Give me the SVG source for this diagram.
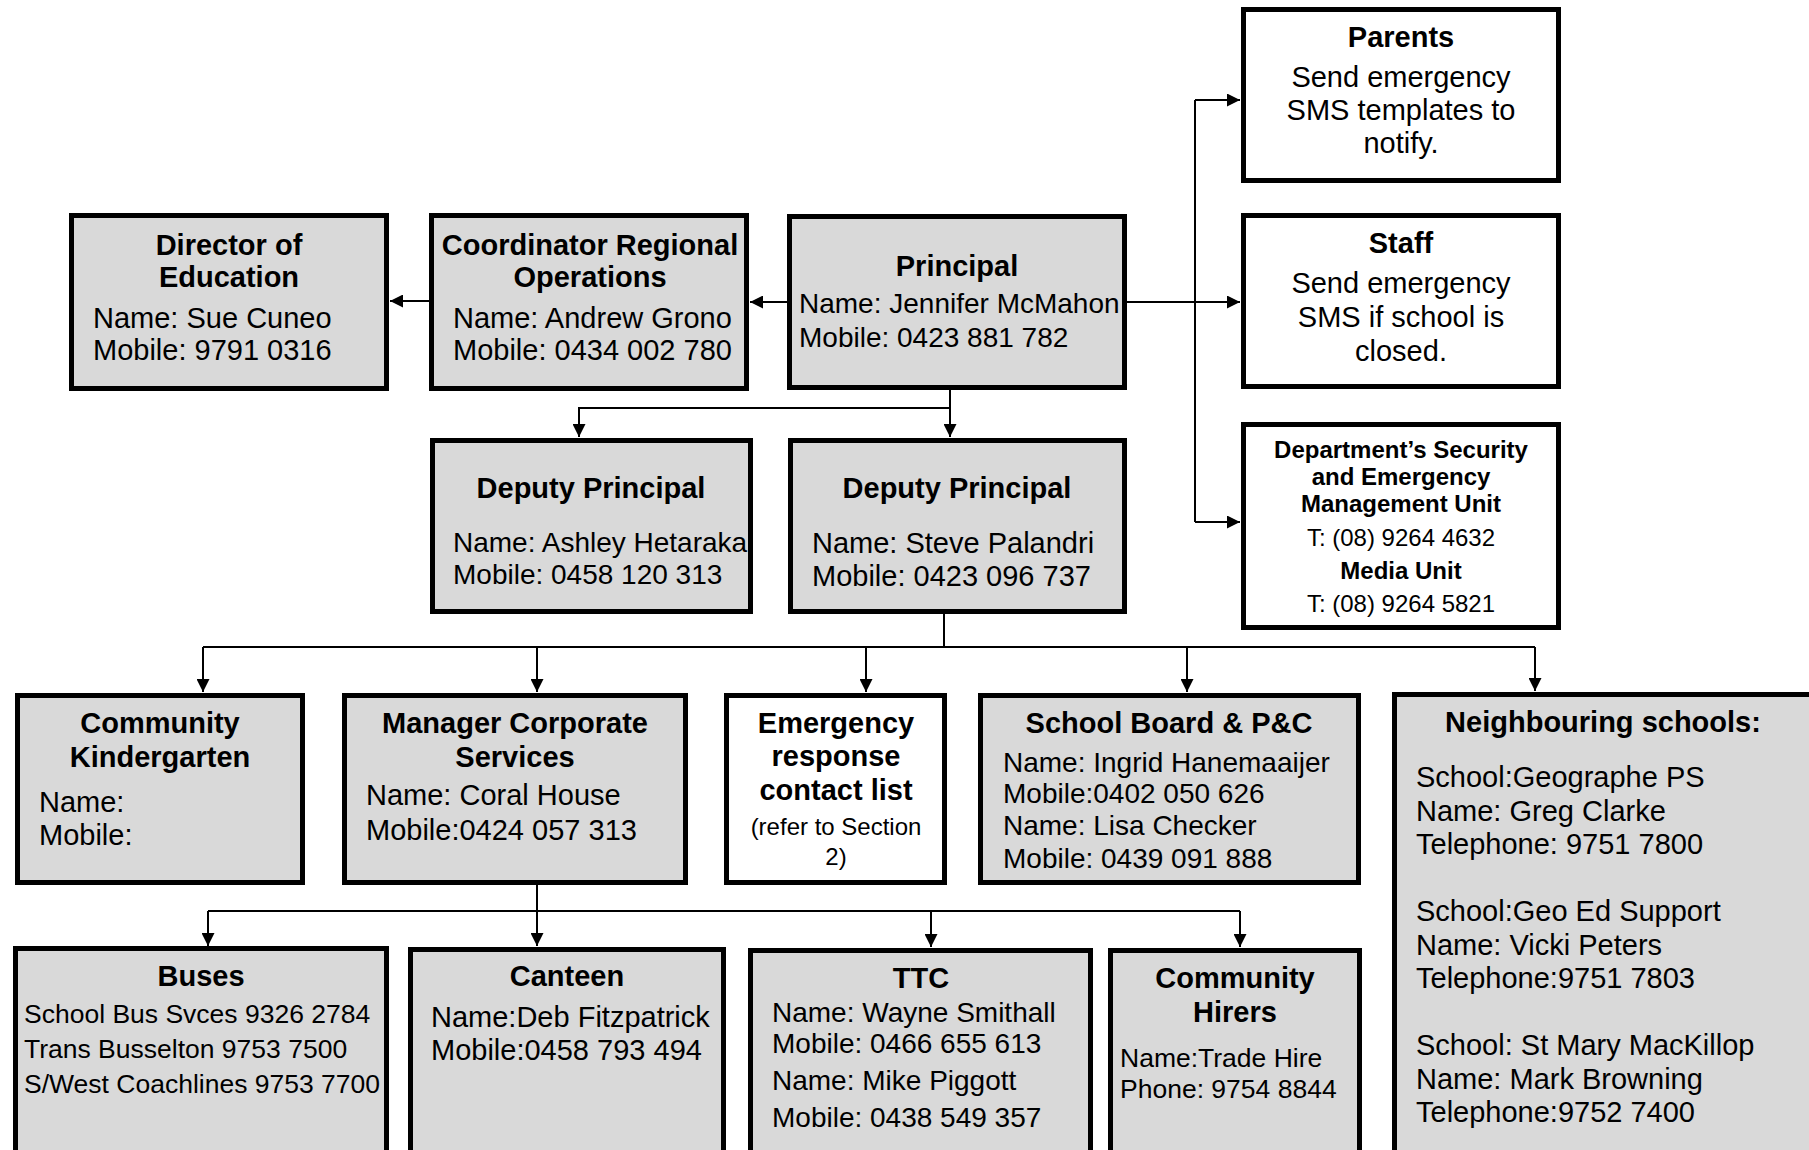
<svg xmlns="http://www.w3.org/2000/svg" width="1809" height="1150" viewBox="0 0 1809 1150">
<style>
.box{stroke:#000;stroke-width:5;fill:#d9d9d9}
.wbox{stroke:#000;stroke-width:5;fill:#fff}
text{font-family:"Liberation Sans",Arial,sans-serif;fill:#000;font-size:29px}
.b{font-weight:bold}
.c{text-anchor:middle}
.s24{font-size:24px}
.s28{font-size:28px}
.s26{font-size:26.5px}
.con{stroke:#000;stroke-width:2;fill:none}
</style>
<defs>
<marker id="ah" markerUnits="userSpaceOnUse" markerWidth="13" markerHeight="13" refX="13" refY="6.5" orient="auto">
<path d="M0,0 L13,6.5 L0,13 z" fill="#000"/>
</marker>
</defs>
<rect width="1809" height="1150" fill="#fff"/>
<g id="connectors">
<path class="con" d="M787,302 H750" marker-end="url(#ah)"/>
<path class="con" d="M429,301 H390" marker-end="url(#ah)"/>
<path class="con" d="M1127,302 H1240" marker-end="url(#ah)"/>
<path class="con" d="M1195,100 V522"/>
<path class="con" d="M1195,100 H1240" marker-end="url(#ah)"/>
<path class="con" d="M1195,522 H1240" marker-end="url(#ah)"/>
<path class="con" d="M950,390 V437" marker-end="url(#ah)"/>
<path class="con" d="M950,408 H579 V437" marker-end="url(#ah)"/>
<path class="con" d="M944,614 V647"/>
<path class="con" d="M203,647 H1535"/>
<path class="con" d="M203,647 V692" marker-end="url(#ah)"/>
<path class="con" d="M537,647 V692" marker-end="url(#ah)"/>
<path class="con" d="M866,647 V692" marker-end="url(#ah)"/>
<path class="con" d="M1187,647 V692" marker-end="url(#ah)"/>
<path class="con" d="M1535,647 V691" marker-end="url(#ah)"/>
<path class="con" d="M537,885 V946" marker-end="url(#ah)"/>
<path class="con" d="M208,911 H1240"/>
<path class="con" d="M208,911 V946" marker-end="url(#ah)"/>
<path class="con" d="M931,911 V947" marker-end="url(#ah)"/>
<path class="con" d="M1240,911 V947" marker-end="url(#ah)"/>
</g>
<g id="parents">
<rect class="wbox" x="1243.5" y="9.5" width="315" height="171"/>
<text class="b c" x="1401" y="47">Parents</text>
<text class="c" x="1401" y="87">Send emergency</text>
<text class="c" x="1401" y="120">SMS templates to</text>
<text class="c" x="1401" y="153">notify.</text>
</g>
<g id="staff">
<rect class="wbox" x="1243.5" y="215.5" width="315" height="171"/>
<text class="b c" x="1401" y="253">Staff</text>
<text class="c" x="1401" y="293">Send emergency</text>
<text class="c" x="1401" y="327">SMS if school is</text>
<text class="c" x="1401" y="361">closed.</text>
</g>
<g id="dept">
<rect class="wbox" x="1243.5" y="424.5" width="315" height="203"/>
<text class="b c s24" x="1401" y="458">Department’s Security</text>
<text class="b c s24" x="1401" y="485">and Emergency</text>
<text class="b c s24" x="1401" y="512">Management Unit</text>
<text class="c s24" x="1401" y="546">T: (08) 9264 4632</text>
<text class="b c s24" x="1401" y="579">Media Unit</text>
<text class="c s24" x="1401" y="612">T: (08) 9264 5821</text>
</g>
<g id="director">
<rect class="box" x="71.5" y="215.5" width="315" height="173"/>
<text class="b c" x="229" y="255">Director of</text>
<text class="b c" x="229" y="287">Education</text>
<text x="93" y="328">Name: Sue Cuneo</text>
<text x="93" y="360">Mobile: 9791 0316</text>
</g>
<g id="coordinator">
<rect class="box" x="431.5" y="215.5" width="315" height="173"/>
<text class="b c" x="590" y="255">Coordinator Regional</text>
<text class="b c" x="590" y="287">Operations</text>
<text x="453" y="328">Name: Andrew Grono</text>
<text x="453" y="360">Mobile: 0434 002 780</text>
</g>
<g id="principal">
<rect class="box" x="789.5" y="216.5" width="335" height="171"/>
<text class="b c" x="957" y="276">Principal</text>
<text class="s28" x="799" y="313">Name: Jennifer McMahon</text>
<text class="s28" x="799" y="347">Mobile: 0423 881 782</text>
</g>
<g id="deputy1">
<rect class="box" x="432.5" y="440.5" width="318" height="171"/>
<text class="b c" x="591" y="498">Deputy Principal</text>
<text class="s28" x="453" y="552">Name: Ashley Hetaraka</text>
<text class="s28" x="453" y="584">Mobile: 0458 120 313</text>
</g>
<g id="deputy2">
<rect class="box" x="790.5" y="440.5" width="334" height="171"/>
<text class="b c" x="957" y="498">Deputy Principal</text>
<text x="812" y="553">Name: Steve Palandri</text>
<text x="812" y="586">Mobile: 0423 096 737</text>
</g>
<g id="kindergarten">
<rect class="box" x="17.5" y="695.5" width="285" height="187"/>
<text class="b c" x="160" y="733">Community</text>
<text class="b c" x="160" y="767">Kindergarten</text>
<text x="39" y="812">Name:</text>
<text x="39" y="845">Mobile:</text>
</g>
<g id="manager">
<rect class="box" x="344.5" y="695.5" width="341" height="187"/>
<text class="b c" x="515" y="733">Manager Corporate</text>
<text class="b c" x="515" y="767">Services</text>
<text x="366" y="805">Name: Coral House</text>
<text x="366" y="840">Mobile:0424 057 313</text>
</g>
<g id="emergency">
<rect class="wbox" x="726.5" y="695.5" width="218" height="187"/>
<text class="b c" x="836" y="733">Emergency</text>
<text class="b c" x="836" y="766">response</text>
<text class="b c" x="836" y="800">contact list</text>
<text class="c s24" x="836" y="835">(refer to Section</text>
<text class="c s24" x="836" y="865">2)</text>
</g>
<g id="schoolboard">
<rect class="box" x="980.5" y="695.5" width="378" height="187"/>
<text class="b c" x="1169" y="733">School Board &amp; P&amp;C</text>
<text class="s28" x="1003" y="772">Name: Ingrid Hanemaaijer</text>
<text class="s28" x="1003" y="803">Mobile:0402 050 626</text>
<text class="s28" x="1003" y="835">Name: Lisa Checker</text>
<text class="s28" x="1003" y="868">Mobile: 0439 091 888</text>
</g>
<g id="neighbouring">
<rect class="box" x="1394.5" y="694.5" width="500" height="500"/>
<text class="b c" x="1603" y="732">Neighbouring schools:</text>
<text x="1416" y="787">School:Geographe PS</text>
<text x="1416" y="820.5">Name: Greg Clarke</text>
<text x="1416" y="854">Telephone: 9751 7800</text>
<text x="1416" y="921">School:Geo Ed Support</text>
<text x="1416" y="954.5">Name: Vicki Peters</text>
<text x="1416" y="988">Telephone:9751 7803</text>
<text x="1416" y="1055">School: St Mary MacKillop</text>
<text x="1416" y="1088.5">Name: Mark Browning</text>
<text x="1416" y="1122">Telephone:9752 7400</text>
</g>
<g id="buses">
<rect class="box" x="15.5" y="948.5" width="371" height="250"/>
<text class="b c" x="201" y="986">Buses</text>
<text class="s26" x="24" y="1023">School Bus Svces 9326 2784</text>
<text class="s26" x="24" y="1058">Trans Busselton 9753 7500</text>
<text class="s26" x="24" y="1093">S/West Coachlines 9753 7700</text>
</g>
<g id="canteen">
<rect class="box" x="410.5" y="949.5" width="313" height="250"/>
<text class="b c" x="567" y="986">Canteen</text>
<text x="431" y="1027">Name:Deb Fitzpatrick</text>
<text x="431" y="1060">Mobile:0458 793 494</text>
</g>
<g id="ttc">
<rect class="box" x="750.5" y="950.5" width="340" height="250"/>
<text class="b c" x="921" y="988">TTC</text>
<text class="s28" x="772" y="1022">Name: Wayne Smithall</text>
<text class="s28" x="772" y="1053">Mobile: 0466 655 613</text>
<text class="s28" x="772" y="1090">Name: Mike Piggott</text>
<text class="s28" x="772" y="1127">Mobile: 0438 549 357</text>
</g>
<g id="hirers">
<rect class="box" x="1110.5" y="950.5" width="249" height="250"/>
<text class="b c" x="1235" y="988">Community</text>
<text class="b c" x="1235" y="1022">Hirers</text>
<text class="s26" x="1120" y="1067">Name:Trade Hire</text>
<text class="s26" x="1120" y="1098">Phone: 9754 8844</text>
</g>
</svg>
